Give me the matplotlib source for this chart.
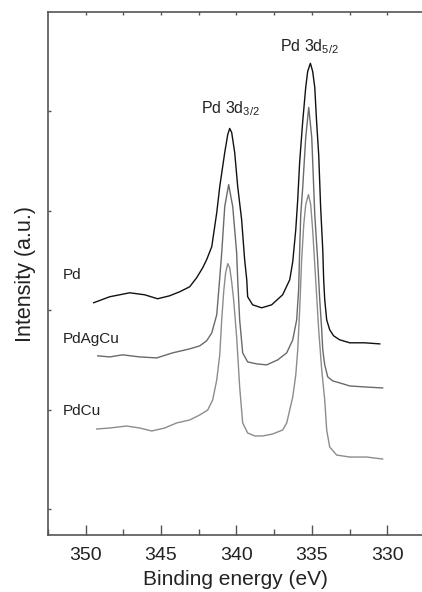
import matplotlib
matplotlib.use("Agg")
import matplotlib.pyplot as plt
from matplotlib.ticker import MultipleLocator, NullFormatter

plt.rcParams['font.family'] = ['Liberation Sans', 'DejaVu Sans']
plt.rcParams['mathtext.fontset'] = 'custom'
plt.rcParams['mathtext.rm'] = 'Liberation Sans'
plt.rcParams['mathtext.it'] = 'Liberation Sans:italic'
plt.rcParams['mathtext.default'] = 'rm'

# ---- data (binding energy in eV, intensity in a.u., offset stacked) ----
pd_be = [349.47, 348.41, 347.08, 346.09, 345.23, 344.43, 343.77, 343.10, 342.64,
         342.24, 341.98, 341.64, 341.31, 341.11, 340.78, 340.58, 340.45, 340.32,
         340.12, 339.92, 339.66, 339.46, 339.32, 339.26, 338.93, 338.33, 337.67,
         336.94, 336.47, 336.27, 336.07, 335.94, 335.81, 335.61, 335.41, 335.28,
         335.10, 334.95, 334.81, 334.69, 334.55, 334.42, 334.28, 334.22, 334.15,
         334.02, 333.82, 333.56, 333.16, 332.49, 331.50, 330.50]
pd_int = [2.076, 2.136, 2.176, 2.156, 2.116, 2.146, 2.186, 2.237, 2.328,
          2.428, 2.509, 2.640, 2.982, 3.244, 3.587, 3.768, 3.829, 3.789,
          3.587, 3.244, 2.912, 2.509, 2.307, 2.136, 2.055, 2.025, 2.055,
          2.156, 2.307, 2.489, 2.811, 3.113, 3.496, 3.899, 4.242, 4.403,
          4.484, 4.403, 4.242, 3.899, 3.567, 3.033, 2.610, 2.307, 2.106,
          1.904, 1.804, 1.743, 1.703, 1.673, 1.673, 1.662]

pdagcu_be = [349.20, 348.41, 347.55, 346.42, 345.29, 344.23, 343.10, 342.44, 341.98,
             341.64, 341.31, 341.11, 340.98, 340.78, 340.52, 340.25, 339.99, 339.92,
             339.79, 339.59, 339.26, 338.66, 338.00, 337.27, 336.67, 336.27, 336.01,
             335.88, 335.81, 335.74, 335.61, 335.41, 335.21, 335.01, 334.88, 334.81,
             334.62, 334.48, 334.35, 334.28, 334.15, 333.95, 333.62, 333.16, 332.49,
             331.50, 330.31]
pdagcu_int = [1.542, 1.531, 1.552, 1.531, 1.521, 1.572, 1.612, 1.642, 1.693,
              1.773, 1.955, 2.327, 2.579, 3.043, 3.264, 3.043, 2.579, 2.307,
              1.904, 1.572, 1.481, 1.461, 1.451, 1.501, 1.572, 1.703, 1.904,
              2.207, 2.610, 2.962, 3.234, 3.738, 4.040, 3.738, 3.234, 2.962,
              2.509, 2.106, 1.804, 1.602, 1.451, 1.330, 1.290, 1.270, 1.239,
              1.229, 1.219]

pdcu_be = [349.27, 348.41, 347.28, 346.42, 345.62, 344.76, 343.97, 343.10, 342.44,
           341.91, 341.58, 341.31, 341.11, 340.98, 340.85, 340.72, 340.58, 340.45,
           340.32, 340.19, 339.99, 339.79, 339.59, 339.26, 338.79, 338.26, 337.60,
           336.94, 336.67, 336.27, 336.07, 335.94, 335.81, 335.68, 335.54, 335.41,
           335.23, 335.08, 334.95, 334.75, 334.55, 334.35, 334.15, 334.02, 333.82,
           333.36, 332.49, 331.37, 330.31]
pdcu_int = [0.806, 0.816, 0.836, 0.816, 0.786, 0.816, 0.867, 0.897, 0.947,
            0.997, 1.098, 1.300, 1.552, 1.904, 2.186, 2.378, 2.469, 2.428,
            2.287, 2.106, 1.733, 1.229, 0.867, 0.766, 0.736, 0.736, 0.756,
            0.796, 0.867, 1.128, 1.350, 1.602, 2.005, 2.509, 2.862, 3.063,
            3.164, 3.063, 2.811, 2.307, 1.804, 1.401, 1.098, 0.796, 0.625,
            0.544, 0.524, 0.524, 0.504]

series_names = ["Pd", "PdAgCu", "PdCu"]
x_ticks = [350, 345, 340, 335, 330]
y_ticks = [0, 1, 2, 3, 4]

# ---- figure ----
fig = plt.figure(figsize=(4.22, 5.92), dpi=100)
ax = fig.add_axes([0.1137, 0.0963, 0.8863, 0.8834])

ax.plot(pd_be, pd_int, color='#111111', lw=1.0)
ax.plot(pdagcu_be, pdagcu_int, color='#6a6a6a', lw=1.0)
ax.plot(pdcu_be, pdcu_int, color='#8c8c8c', lw=1.0)

ax.set_xlim(352.5, 327.7)
ax.set_ylim(-0.26, 5.0)

# series labels
label_x = 351.5
ax.text(label_x, 2.35, series_names[0], fontsize=11, color='#222222', va='center', ha='left')
ax.text(label_x, 1.71, series_names[1], fontsize=11, color='#222222', va='center', ha='left')
ax.text(label_x, 0.99, series_names[2], fontsize=11, color='#222222', va='center', ha='left')

# peak labels
ax.text(340.4, 3.93, r'Pd 3d$_{3/2}$', fontsize=11.5, color='#222222', ha='center', va='bottom')
ax.text(335.15, 4.56, r'Pd 3d$_{5/2}$', fontsize=11.5, color='#222222', ha='center', va='bottom')

ax.set_xlabel('Binding energy (eV)', fontsize=15, color='#222222', labelpad=4)
ax.set_ylabel('Intensity (a.u.)', fontsize=15.5, color='#222222', labelpad=5)

# ticks
ax.xaxis.set_minor_locator(MultipleLocator(2.5))
ax.set_xticks(x_ticks)
ax.set_yticks(y_ticks)
ax.yaxis.set_major_formatter(NullFormatter())
ax.tick_params(axis='x', which='major', direction='in', length=7, width=1,
               color='#555555', labelsize=14, labelcolor='#222222', pad=9,
               top=False)
ax.tick_params(axis='x', which='minor', direction='in', length=4, width=1,
               color='#555555', top=False)
ax.tick_params(axis='y', which='major', direction='in', length=2.5, width=1,
               color='#555555', right=False)

# top spine short ticks
sec = ax.secondary_xaxis('top')
sec.set_xticks([350, 347.5, 345, 342.5, 340, 337.5, 335, 332.5, 330])
sec.tick_params(direction='in', length=2.5, width=1, color='#555555', labeltop=False)
sec.spines['top'].set_visible(False)

for s in ['left', 'top', 'bottom']:
    ax.spines[s].set_color('#555555')
    ax.spines[s].set_linewidth(1.2)
ax.spines['right'].set_visible(False)

fig.savefig('out.png', dpi=100)
